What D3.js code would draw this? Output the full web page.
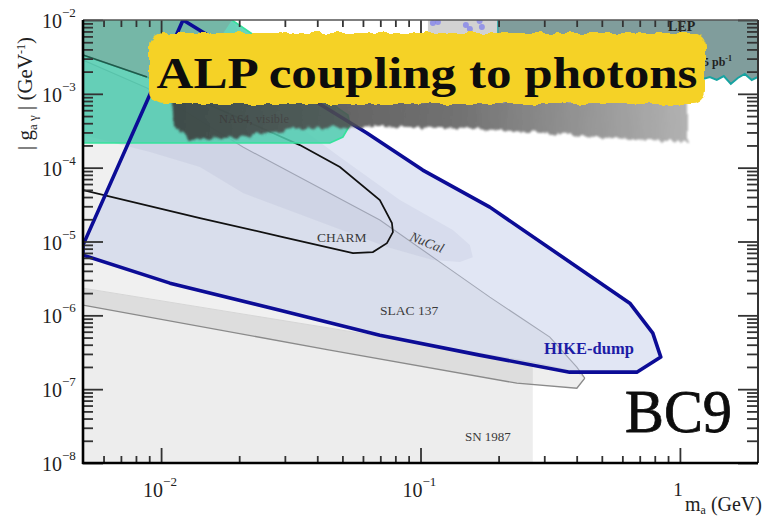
<!DOCTYPE html>
<html>
<head>
<meta charset="utf-8">
<script src="https://cdn.jsdelivr.net/npm/d3@7"></script>
<style>
  body { margin: 0; background: #fff; }
  svg { display: block; }
  text { font-family: "Liberation Serif", "Times New Roman", serif; }
</style>
</head>
<body>
<svg id="chart" width="764" height="517"></svg>
<script>
// axes
const xDomain = [0.005, 2]
const yDomain = [1e-8, 1e-2]
const xMajor = [0.01, 0.1, 1]
const yMajor = [1e-8, 1e-7, 1e-6, 1e-5, 1e-4, 1e-3, 1e-2]

// excluded regions, points are [m_a (GeV), g (GeV^-1)]
const sn1987 = [[0.005, 1e-8], [0.271, 1e-8], [0.271, 2.32e-7], [0.04474, 6.71e-7], [0.005, 2.336e-6]]
const bandUpper = [[0.005, 2.336e-6], [0.04474, 6.71e-7], [0.271, 2.32e-7], [0.4006, 1.70e-7], [0.430, 1.41e-7]]
const bandLower = [[0.430, 1.41e-7], [0.4006, 1.031e-7], [0.2351, 1.206e-7], [0.04474, 3.38e-7], [0.005, 1.374e-6]]
const slacUpper = [[0.005, 2.87e-3], [0.00882, 1.2e-3], [0.02068, 1.90e-4], [0.0697, 1.95e-5], [0.1188, 5.26e-6],
  [0.185, 1.764e-6], [0.3152, 5.07e-7], [0.4006, 1.99e-7], [0.430, 1.41e-7]]
const nucal = [[0.005, 1e-2], [0.005, 2.77e-4], [0.00906, 1.627e-4], [0.01412, 1.019e-4], [0.02068, 4.53e-5],
  [0.03649, 2.14e-5], [0.07422, 8.40e-6], [0.1116, 5.60e-6], [0.1418, 5.26e-6], [0.1591, 6.14e-6],
  [0.155, 8.94e-6], [0.1333, 1.427e-5], [0.08329, 3.64e-5], [0.0489, 1.392e-4], [0.03138, 4.42e-4], [0.01876, 1e-2]]
const charm = [[0.005, 4.97e-5], [0.01412, 2.075e-5], [0.02949, 1.147e-5], [0.0549, 6.96e-6], [0.06555, 7.19e-6],
  [0.07422, 9.51e-6], [0.07828, 1.341e-5], [0.0776, 1.775e-5], [0.0697, 3.64e-5], [0.0489, 1.019e-4],
  [0.03428, 2.02e-4], [0.00882, 1.689e-3], [0.005, 3.355e-3]]
const hike = [[0.005, 8.94e-6], [0.01215, 1.0e-2], [0.0621, 2.94e-4], [0.102, 9.28e-5], [0.185, 2.92e-5],
  [0.641, 1.46e-6], [0.786, 5.74e-7], [0.844, 2.72e-7], [0.682, 1.70e-7], [0.376, 1.70e-7], [0.169, 2.89e-7],
  [0.0697, 5.39e-7], [0.0287, 1.17e-6], [0.01082, 2.73e-6], [0.005, 6.54e-6]]
const na64 = [[0.005, 1e-2], [0.01876, 1e-2], [0.03138, 2.87e-3], [0.04804, 6.42e-4], [0.05251, 5.16e-4],
  [0.05345, 3.78e-4], [0.05022, 2.60e-4], [0.04474, 2.154e-4], [0.005, 2.154e-4]]
const darkTop = [[0.005, 1e-2], [0.01876, 1e-2], [0.0141, 2.2e-3], [0.00882, 1.689e-3], [0.005, 3.355e-3]]
const lepM = [1.225, 1.304, 1.387, 1.476, 1.571, 1.672, 1.778, 1.892, 2.0]
const lepG = [1.59e-3, 1.69e-3, 1.54e-3, 1.74e-3, 1.36e-3, 1.64e-3, 1.86e-3, 1.54e-3, 1.69e-3]
const lepLeft = 0.1987
const stripBox = [[0.1068, 6.26e-3], [0.1987, 1e-2]]
const blobs = [[0.1116, 9.1e-3], [0.1167, 9.4e-3], [0.1496, 8.56e-3], [0.155, 7.55e-3], [0.169, 9.7e-3], [0.1724, 8.04e-3]]

const W = 764, H = 517
const margin = { top: 20, right: 6, bottom: 54, left: 83 }
const svg = d3.select("#chart")
const x = d3.scaleLog().domain(xDomain).range([margin.left, W - margin.right])
const y = d3.scaleLog().domain(yDomain).range([H - margin.bottom, margin.top])
const line = d3.line().x(d => x(d[0])).y(d => y(d[1]))

const defs = svg.append("defs")
defs.append("clipPath").attr("id", "plot")
  .append("rect")
    .attr("x", x(xDomain[0])).attr("y", y(yDomain[1]))
    .attr("width", x(xDomain[1]) - x(xDomain[0]))
    .attr("height", y(yDomain[0]) - y(yDomain[1]))

const rough = defs.append("filter").attr("id", "rough")
  .attr("x", "-5%").attr("y", "-20%").attr("width", "110%").attr("height", "140%")
rough.append("feTurbulence").attr("type", "fractalNoise").attr("baseFrequency", "0.09")
  .attr("numOctaves", 2).attr("seed", 4).attr("result", "n")
rough.append("feDisplacementMap").attr("in", "SourceGraphic").attr("in2", "n")
  .attr("scale", 7).attr("xChannelSelector", "R").attr("yChannelSelector", "G")

const smudge = defs.append("filter").attr("id", "smudge")
  .attr("x", "-5%").attr("y", "-30%").attr("width", "110%").attr("height", "160%")
smudge.append("feTurbulence").attr("type", "fractalNoise").attr("baseFrequency", "0.15 0.05")
  .attr("numOctaves", 2).attr("seed", 9).attr("result", "n")
smudge.append("feDisplacementMap").attr("in", "SourceGraphic").attr("in2", "n")
  .attr("scale", 8).attr("xChannelSelector", "R").attr("yChannelSelector", "G").attr("result", "d")
smudge.append("feGaussianBlur").attr("in", "d").attr("stdDeviation", 1.2)

const grad = defs.append("linearGradient").attr("id", "shade").attr("x1", "0").attr("x2", "1")
grad.append("stop").attr("offset", "0").attr("stop-color", "#3a3a3a")
grad.append("stop").attr("offset", "0.55").attr("stop-color", "#5e5e5e")
grad.append("stop").attr("offset", "1").attr("stop-color", "#a8a8a8")

const plot = svg.append("g").attr("clip-path", "url(#plot)")

// background regions
plot.append("path").attr("d", line(sn1987) + "Z").attr("fill", "rgba(0,0,0,0.07)")
plot.append("path").attr("d", line(bandUpper.concat(bandLower)) + "Z").attr("fill", "rgba(0,0,0,0.065)")
plot.append("path").attr("d", line(slacUpper.concat(bandUpper.slice().reverse())) + "Z").attr("fill", "rgba(0,0,0,0.06)")
plot.append("path").attr("d", line(bandUpper)).attr("fill", "none").attr("stroke", "#d6d6d6").attr("stroke-width", 1)
plot.append("path").attr("d", line(bandLower)).attr("fill", "none").attr("stroke", "#8a8a8a").attr("stroke-width", 1.4)
plot.append("path").attr("d", line(slacUpper)).attr("fill", "none").attr("stroke", "#8e8e8e").attr("stroke-width", 1.1)
plot.append("path").attr("d", line(nucal) + "Z").attr("fill", "rgba(90,90,140,0.11)")

// HIKE fill, CHARM contour
plot.append("path").attr("d", line(hike) + "Z").attr("fill", "rgba(188,199,230,0.45)")
plot.append("path").attr("d", line(charm)).attr("fill", "none").attr("stroke", "#111").attr("stroke-width", 1.7)

// NA64 visible
plot.append("path").attr("d", line(na64) + "Z")
  .attr("fill", "rgba(80,205,175,0.85)").attr("stroke", "#35e39c").attr("stroke-width", 1.6)
plot.append("path").attr("d", line(darkTop) + "Z").attr("fill", "rgba(140,140,140,0.38)")
plot.append("path").attr("d", line(charm.slice(-2))).attr("fill", "none").attr("stroke", "#1f5a4a").attr("stroke-width", 1.6)

// HIKE outline on top
plot.append("path").attr("d", line(hike) + "Z")
  .attr("fill", "none").attr("stroke", "#0c0c96").attr("stroke-width", 3.6).attr("stroke-linejoin", "round")

// LEP and neighbour strip at the top
const lepPts = [[lepLeft, 1e-2], [lepLeft, 1.55e-3]].concat(lepM.map((m, i) => [m, lepG[i]])).concat([[2, 1e-2]])
plot.append("path").attr("d", line(lepPts) + "Z").attr("fill", "#809d9c")
plot.append("path").attr("d", line(lepM.map((m, i) => [m, lepG[i]])))
  .attr("fill", "none").attr("stroke", "#17a3a1").attr("stroke-width", 2)
plot.append("rect")
  .attr("x", x(stripBox[0][0])).attr("y", y(stripBox[1][1]))
  .attr("width", x(stripBox[1][0]) - x(stripBox[0][0]))
  .attr("height", y(stripBox[0][1]) - y(stripBox[1][1]))
  .attr("fill", "#d2d2d2")
plot.append("line").attr("x1", x(lepLeft)).attr("x2", x(lepLeft))
  .attr("y1", y(1e-2)).attr("y2", y(stripBox[0][1])).attr("stroke", "#17a3a1").attr("stroke-width", 1.2)
plot.selectAll("circle.blob").data(blobs).join("circle")
  .attr("cx", d => x(d[0])).attr("cy", d => y(d[1])).attr("r", 3)
  .attr("fill", "#8080ec").attr("opacity", 0.75)
plot.append("text").attr("x", 668).attr("y", 31).attr("font-size", 14).attr("font-weight", "bold")
  .attr("fill", "#222").text("LEP")
const pb = plot.append("text").attr("x", 703).attr("y", 66).attr("font-size", 12).attr("font-weight", "bold").attr("fill", "#222")
pb.append("tspan").text("5 pb")
pb.append("tspan").attr("dy", -5).attr("font-size", 8).text("-1")

// region labels
const label = (t, px, py, size, opts = {}) => {
  const el = svg.append("text").attr("x", px).attr("y", py).attr("font-size", size)
    .attr("fill", opts.fill || "#3a3a3a").text(t)
  if (opts.weight) el.attr("font-weight", opts.weight)
  if (opts.style) el.attr("font-style", opts.style)
  if (opts.anchor) el.attr("text-anchor", opts.anchor)
  if (opts.rotate) el.attr("transform", `rotate(${opts.rotate},${px},${py})`)
  return el
}
label("NA64, visible", 219, 123, 12.5, { fill: "#2e3b38" })
label("CHARM", 317, 242, 13.5)
label("NuCal", 409, 240, 13.5, { style: "italic", rotate: 22 })
label("SLAC 137", 380, 315, 13.5)
label("HIKE-dump", 544, 354, 16.5, { fill: "#1c1ca6", weight: "bold" })
label("SN 1987", 465, 441, 13)

// ticks
const minorOf = dom => {
  const out = []
  for (let e = Math.floor(Math.log10(dom[0])); e <= Math.ceil(Math.log10(dom[1])); e++) {
    for (let k = 2; k <= 9; k++) {
      const v = k * Math.pow(10, e)
      if (v > dom[0] * 1.0001 && v < dom[1] * 0.9999) out.push(v)
    }
  }
  return out
}
const xMinor = minorOf(xDomain), yMinor = minorOf(yDomain)
const tickStyle = g => {
  g.select(".domain").remove()
  g.selectAll("line").attr("stroke", "#333").attr("stroke-width", 1.8)
}
const bottomY = y(yDomain[0]), topY = y(yDomain[1]), leftX = x(xDomain[0]), rightX = x(xDomain[1])
svg.append("g").attr("transform", `translate(0,${bottomY})`).call(d3.axisBottom(x).tickValues(xMajor).tickSize(-15).tickFormat("")).call(tickStyle)
svg.append("g").attr("transform", `translate(0,${bottomY})`).call(d3.axisBottom(x).tickValues(xMinor).tickSize(-7).tickFormat("")).call(tickStyle)
svg.append("g").attr("transform", `translate(0,${topY})`).call(d3.axisTop(x).tickValues(xMajor).tickSize(-15).tickFormat("")).call(tickStyle)
svg.append("g").attr("transform", `translate(0,${topY})`).call(d3.axisTop(x).tickValues(xMinor).tickSize(-7).tickFormat("")).call(tickStyle)
svg.append("g").attr("transform", `translate(${leftX},0)`).call(d3.axisLeft(y).tickValues(yMajor).tickSize(-20).tickFormat("")).call(tickStyle)
svg.append("g").attr("transform", `translate(${leftX},0)`).call(d3.axisLeft(y).tickValues(yMinor).tickSize(-10).tickFormat("")).call(tickStyle)
svg.append("g").attr("transform", `translate(${rightX},0)`).call(d3.axisRight(y).tickValues(yMajor).tickSize(-20).tickFormat("")).call(tickStyle)
svg.append("g").attr("transform", `translate(${rightX},0)`).call(d3.axisRight(y).tickValues(yMinor).tickSize(-11).tickFormat("")).call(tickStyle)

// frame
svg.append("line").attr("x1", leftX).attr("x2", rightX).attr("y1", topY).attr("y2", topY).attr("stroke", "#555").attr("stroke-width", 1.5)
svg.append("line").attr("x1", rightX).attr("x2", rightX).attr("y1", topY).attr("y2", bottomY).attr("stroke", "#333").attr("stroke-width", 2)
svg.append("line").attr("x1", leftX).attr("x2", leftX).attr("y1", topY).attr("y2", bottomY + 1).attr("stroke", "#000").attr("stroke-width", 2.6)
svg.append("line").attr("x1", leftX - 1).attr("x2", rightX).attr("y1", bottomY).attr("y2", bottomY).attr("stroke", "#000").attr("stroke-width", 2.6)

// tick labels
yMajor.forEach(v => {
  const e = Math.round(Math.log10(v))
  svg.append("text").attr("x", 62).attr("y", y(v) + 8).attr("text-anchor", "end").attr("font-size", 20).attr("fill", "#222").text("10")
  svg.append("text").attr("x", 62).attr("y", y(v) - 3).attr("font-size", 13).attr("fill", "#222").text("\u2212" + Math.abs(e))
})
xMajor.forEach(v => {
  const e = Math.round(Math.log10(v))
  if (e === 0) {
    svg.append("text").attr("x", x(v) - 2).attr("y", 496).attr("text-anchor", "middle").attr("font-size", 19).attr("fill", "#222").text("1")
  } else {
    svg.append("text").attr("x", x(v) + 2).attr("y", 497).attr("text-anchor", "end").attr("font-size", 20).attr("fill", "#222").text("10")
    svg.append("text").attr("x", x(v) + 2).attr("y", 486).attr("font-size", 13).attr("fill", "#222").text("\u2212" + Math.abs(e))
  }
})

// axis titles
const xt = svg.append("text").attr("x", 685).attr("y", 511).attr("font-size", 20).attr("fill", "#222")
xt.append("tspan").text("m")
xt.append("tspan").attr("dy", 3).attr("font-size", 12).text("a")
xt.append("tspan").attr("dy", -3).text(" (GeV)")

const yt = svg.append("text").attr("transform", "translate(32,150) rotate(-90)").attr("font-size", 21).attr("fill", "#222")
yt.append("tspan").text("| g")
yt.append("tspan").attr("dy", 5).attr("font-size", 13).text("a \u03b3")
yt.append("tspan").attr("dy", -5).text(" | (GeV")
yt.append("tspan").attr("dy", -7).attr("font-size", 12).text("-1")
yt.append("tspan").attr("dy", 7).text(")")

// banner with its grungy shadow
svg.append("path")
  .attr("d", "M172,100 L688,100 L688,142 L610,138 L500,130 L380,126 L300,128 L240,137 L190,140 L174,126 Z")
  .attr("fill", "url(#shade)").attr("opacity", 0.88).attr("filter", "url(#smudge)")
svg.append("rect").attr("x", 149).attr("y", 33).attr("width", 557).attr("height", 71).attr("rx", 14)
  .attr("fill", "#f5d226").attr("filter", "url(#rough)")
svg.append("text").attr("x", 427).attr("y", 88).attr("text-anchor", "middle")
  .attr("font-size", 45).attr("font-weight", "bold").attr("fill", "#0d0d0d")
  .attr("textLength", 541).attr("lengthAdjust", "spacingAndGlyphs")
  .text("ALP coupling to photons")

svg.append("text").attr("x", 625).attr("y", 432).attr("font-size", 62).attr("fill", "#0d0d0d")
  .attr("stroke", "#0d0d0d").attr("stroke-width", 0.8)
  .attr("textLength", 107).attr("lengthAdjust", "spacingAndGlyphs").text("BC9")
</script>
</body>
</html>
